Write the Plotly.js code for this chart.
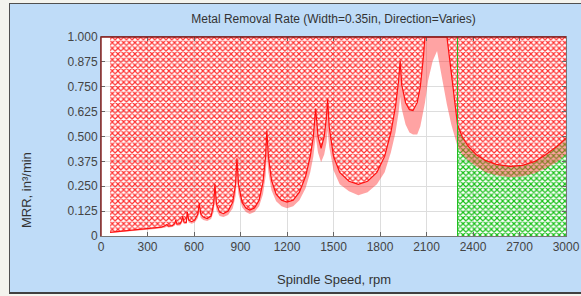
<!DOCTYPE html>
<html><head><meta charset="utf-8">
<script src="https://cdn.plot.ly/plotly-3.0.1.min.js"></script>
<style>
html,body{margin:0;padding:0;background:#f4f4ee;width:581px;height:296px;overflow:hidden}
#frame{position:absolute;left:9px;top:3px;width:572px;height:288px;background:#bfdcf8;border-left:1px solid #505050;border-top:1px solid #505050;border-bottom:2px solid #404040;}
#chart{position:absolute;left:0;top:0;width:581px;height:296px}
</style></head><body>
<div id="frame"></div><div id="chart"></div>
<script>
// Spindle speed (rpm)
var rpm = [58,100,150,200,250,300,350,390,410,425,435,460,475,482,490,510,520,527,535,550,557,566,585,605,625,634,644,660,685,710,727,735,745,765,790,820,850,868,877,887,910,935,960,990,1020,1045,1062,1070,1080,1100,1130,1165,1200,1240,1280,1320,1350,1370,1385,1400,1420,1440,1455,1462,1472,1500,1540,1600,1660,1720,1780,1830,1870,1900,1920,1930,1940,1965,1990,2013,2040,2060,2080,2090,2110,2140,2168,2200,2232,2260,2285,2300,2330,2370,2420,2480,2550,2640,2720,2800,2870,2940,3000];
// Upper stability limit (edge of hatched unstable region), in^3/min
var upper = [0.018,0.021,0.025,0.029,0.033,0.037,0.041,0.045,0.05,0.058,0.05,0.052,0.062,0.08,0.06,0.062,0.075,0.1,0.07,0.068,0.12,0.08,0.072,0.08,0.11,0.165,0.11,0.095,0.088,0.1,0.16,0.26,0.16,0.12,0.112,0.125,0.17,0.26,0.39,0.26,0.17,0.14,0.13,0.14,0.18,0.27,0.4,0.53,0.4,0.28,0.21,0.18,0.17,0.18,0.22,0.3,0.4,0.5,0.64,0.5,0.44,0.5,0.6,0.69,0.55,0.4,0.32,0.275,0.26,0.275,0.32,0.4,0.52,0.65,0.78,0.88,0.76,0.67,0.635,0.63,0.67,0.75,0.9,1.0,1.0,1.0,1.0,1.0,1.0,0.82,0.65,0.56,0.5,0.45,0.41,0.38,0.36,0.35,0.355,0.375,0.41,0.45,0.49];
// Lower limit of uncertainty band, in^3/min
var lower = [0.015,0.018,0.021,0.025,0.028,0.032,0.035,0.039,0.042,0.046,0.043,0.045,0.052,0.06,0.052,0.053,0.062,0.075,0.06,0.06,0.09,0.068,0.062,0.068,0.09,0.12,0.09,0.08,0.075,0.085,0.12,0.18,0.13,0.1,0.095,0.105,0.14,0.2,0.28,0.21,0.145,0.12,0.11,0.12,0.15,0.21,0.3,0.4,0.32,0.23,0.175,0.15,0.14,0.15,0.18,0.24,0.32,0.4,0.5,0.42,0.37,0.41,0.47,0.53,0.45,0.33,0.26,0.225,0.205,0.22,0.26,0.32,0.42,0.52,0.62,0.7,0.64,0.56,0.52,0.51,0.51,0.55,0.63,0.67,0.78,0.88,0.93,0.8,0.66,0.56,0.49,0.45,0.41,0.38,0.35,0.32,0.305,0.295,0.3,0.315,0.34,0.37,0.41];
var stableStart = 2300;
var xTicks = [0,300,600,900,1200,1500,1800,2100,2400,2700,3000];
var yTicks = [0,0.125,0.25,0.375,0.5,0.625,0.75,0.875,1];
var yTickText = ['0','0.125','0.250','0.375','0.500','0.625','0.750','0.875','1.000'];

var gx = [stableStart], gy = [0];
for (var i = 0; i < rpm.length; i++) { if (rpm[i] >= stableStart) { gx.push(rpm[i]); gy.push(upper[i]); } }
gx.push(3000); gy.push(0);

var redX = rpm.concat([3000, rpm[0]]);
var redY = upper.concat([1, 1]);
var bandX = rpm.concat(rpm.slice().reverse());
var bandY = upper.concat(lower.slice().reverse());

var traces = [
  {x: gx, y: gy, type: 'scatter', mode: 'lines', fill: 'toself', line: {width: 0, color: 'rgba(0,0,0,0)'},
   fillcolor: 'rgba(0,0,0,0)',
   fillpattern: {shape: 'x', size: 4, solidity: 0.5, fgcolor: '#18c018', bgcolor: 'rgba(255,255,255,0)', fillmode: 'replace'},
   hoverinfo: 'skip', showlegend: false},
  {x: redX, y: redY, type: 'scatter', mode: 'lines', fill: 'toself', line: {width: 0, color: 'rgba(0,0,0,0)'},
   fillcolor: 'rgba(0,0,0,0)',
   fillpattern: {shape: 'x', size: 4, solidity: 0.5, fgcolor: '#ff3030', bgcolor: 'rgba(255,255,255,0)', fillmode: 'replace'},
   hoverinfo: 'skip', showlegend: false},
  {x: bandX, y: bandY, type: 'scatter', mode: 'lines', fill: 'toself', line: {width: 0, color: 'rgba(0,0,0,0)'},
   fillcolor: 'rgba(255,50,50,0.45)', hoverinfo: 'skip', showlegend: false},
  {x: rpm, y: upper, type: 'scatter', mode: 'lines', line: {width: 1.2, color: '#ff1010'}, hoverinfo: 'skip', showlegend: false}
];

var tickFont = {family: 'Liberation Sans, Arial, sans-serif', size: 12, color: '#444'};
var layout = {
  width: 581, height: 296,
  margin: {l: 101, r: 15, t: 37, b: 60, pad: 0},
  paper_bgcolor: 'rgba(0,0,0,0)', plot_bgcolor: '#ffffff',
  title: {text: 'Metal Removal Rate (Width=0.35in, Direction=Varies)', font: {family: 'Liberation Sans, Arial, sans-serif', size: 12, color: '#333'},
          xref: 'paper', x: 0.5, xanchor: 'center', yref: 'container', y: 1 - 19/296, yanchor: 'middle'},
  xaxis: {range: [0, 3000], tickvals: xTicks, ticktext: xTicks.map(String), ticks: 'inside', ticklen: 4, tickcolor: '#666',
          showline: true, linecolor: '#777', linewidth: 1, mirror: 'ticks', showgrid: true, gridcolor: '#dddddd', zeroline: false,
          tickfont: tickFont, fixedrange: true},
  yaxis: {range: [0, 1], tickvals: yTicks, ticktext: yTickText, ticks: 'inside', ticklen: 4, tickcolor: '#666',
          showline: true, linecolor: '#777', linewidth: 1, mirror: 'ticks', showgrid: true, gridcolor: '#dddddd', zeroline: false,
          tickfont: tickFont, fixedrange: true},
  shapes: [
    {type: 'line', xref: 'x', yref: 'paper', x0: stableStart, x1: stableStart, y0: 0, y1: 1, line: {color: '#22c022', width: 1}, layer: 'above'},
    {type: 'line', xref: 'paper', yref: 'paper', x0: 0, x1: 1, y0: 1, y1: 1, line: {color: '#8b1a1a', width: 1.5}, layer: 'above'},
    {type: 'line', xref: 'paper', yref: 'paper', x0: 0, x1: 0, y0: 0, y1: 1, line: {color: '#8b2a2a', width: 1.5}, layer: 'above'}
  ],
  annotations: [
    {text: 'Spindle Speed, rpm', xref: 'paper', yref: 'paper', x: 0.5, y: -(279-236)/199, xanchor: 'center', yanchor: 'middle',
     showarrow: false, font: {family: 'Liberation Sans, Arial, sans-serif', size: 13, color: '#333'}},
    {text: 'MRR, in³/min', xref: 'paper', yref: 'paper', x: (26-101)/465, y: (236-190)/199, xanchor: 'center', yanchor: 'middle',
     textangle: -90, showarrow: false, font: {family: 'Liberation Sans, Arial, sans-serif', size: 13, color: '#333'}}
  ]
};
Plotly.newPlot('chart', traces, layout, {displayModeBar: false, staticPlot: true});
</script></body></html>
